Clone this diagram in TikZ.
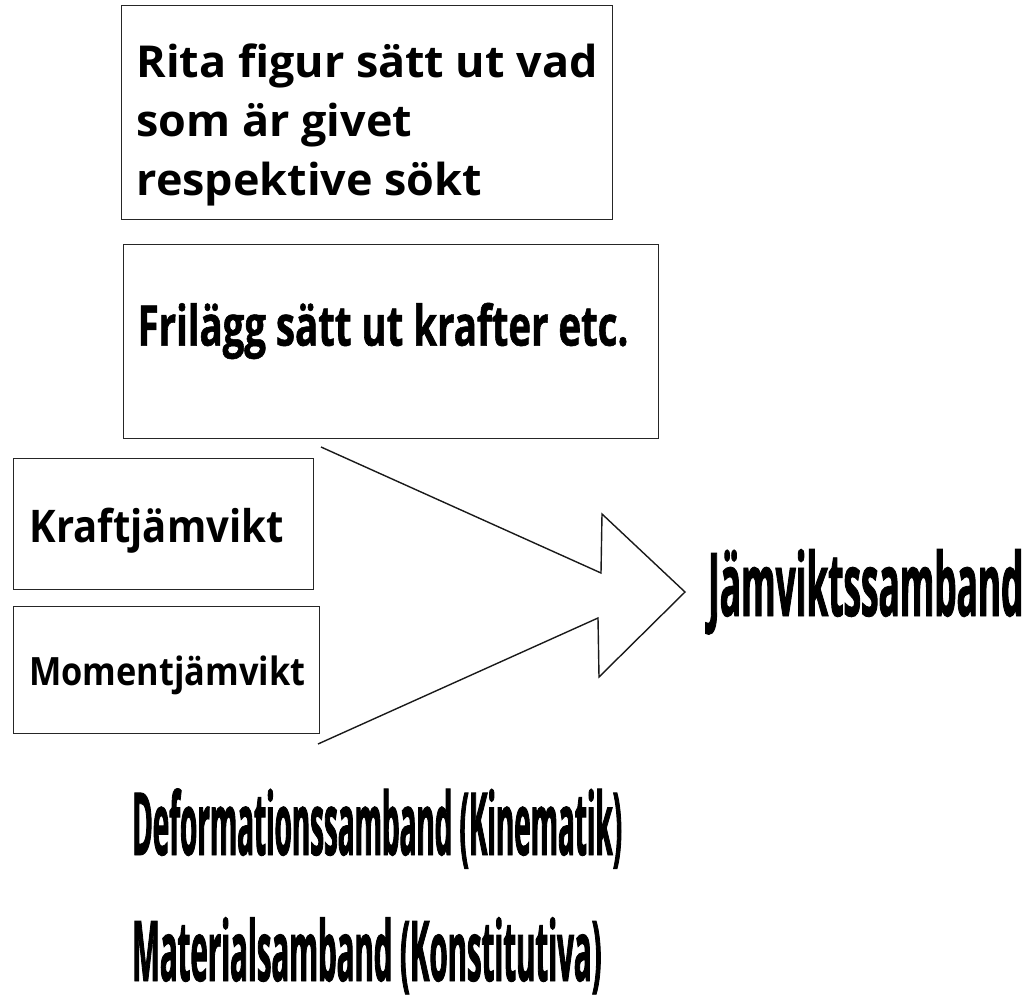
\documentclass[tikz,border=0pt]{standalone}
\usepackage{fontspec}
\setmainfont{Open Sans}
\usepackage{tikz}
\usetikzlibrary{positioning}

% bold Open Sans, squeezed sideways by #1, at size #2 with skip #3
\newcommand{\sqfont}[3]{\bfseries\addfontfeature{FakeStretch=#1}\fontsize{#2}{#3}\selectfont}
% same, a bit heavier, for the narrow headings
\newcommand{\heavyfont}[3]{\bfseries\addfontfeature{FakeStretch=#1,FakeBold=1}\fontsize{#2}{#3}\selectfont}

\begin{document}
\begin{tikzpicture}[
    x=1pt, y=-1pt,
    box/.style={rectangle, draw=black!85, line width=1.3pt, inner sep=0pt, anchor=north west, align=flush left},
    word/.style={anchor=base west, inner sep=0pt},
    bigarrow/.style={draw=black!90, line width=1.4pt, line join=miter}
]
\useasboundingbox (0,0) rectangle (1028,1000);

% Steps at the top
\node[box, minimum width=491pt, minimum height=214pt, text width=461pt, text height=35pt, text depth=105pt, font={\sqfont{1.02}{44}{59}}] (rita) at (121,5) {Rita figur sätt ut vad\\som är givet\\respektive sökt};
\node[box, minimum width=535pt, minimum height=194pt, text width=507pt, text height=40pt, text depth=32pt, font={\heavyfont{0.685}{56}{60}}] (frilagg) at (123,244) {Frilägg sätt ut krafter etc.};

% Equilibrium boxes
\node[box, minimum width=300pt, minimum height=131pt, text width=268pt, text height=37pt, text depth=0pt, font={\sqfont{0.89}{45}{50}}] (kraft) at (13,458) {Kraftjämvikt};
\node[box, minimum width=306pt, minimum height=127pt, text width=275pt, text height=31pt, text depth=0pt, font={\sqfont{0.88}{39}{44}}] (moment) at (13,606) {Momentjämvikt};

% Big open arrow
\coordinate (atop) at (321,447);
\coordinate (abot) at (318,744);
\coordinate (tip) at (685,592);
\draw[bigarrow] (atop) -- (601,573) -- (602,514) -- (tip) -- (599,677) -- (598,618) -- (abot);

% Results
\node[word, font={\heavyfont{0.40}{88}{88}}] (jamvikt) at (708,616) {Jämviktssamband};
\node[word, font={\heavyfont{0.32}{87}{87}}] (deform) at (132,855) {Deformationssamband (Kinematik)};
\node[word, font={\heavyfont{0.35}{84}{84}}] (material) at (132,981) {Materialsamband (Konstitutiva)};

\end{tikzpicture}
\end{document}
